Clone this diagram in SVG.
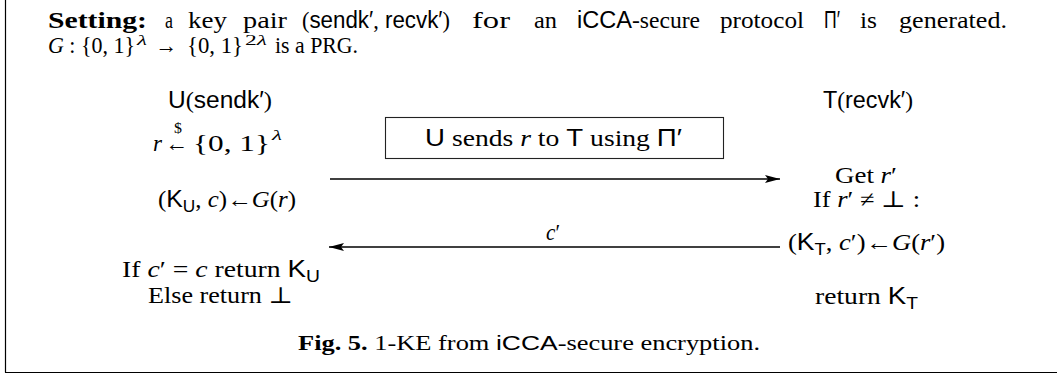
<svg xmlns="http://www.w3.org/2000/svg" width="1057" height="378" viewBox="0 0 1057 378">
<style>
text{font-family:"Liberation Serif","DejaVu Serif",serif;font-size:23px;fill:#000}
.sf{font-family:"Liberation Sans","DejaVu Sans",sans-serif}
.it{font-style:italic}
.bf{font-weight:bold}
.sub{font-size:16px}
.sup{font-size:15px}
.cap{font-size:21px}
.line{stroke:#000;stroke-width:1.4;fill:none}
.frame{stroke:#000;stroke-width:1.2;fill:none}
</style>
<defs>
<marker id="ah" markerUnits="userSpaceOnUse" markerWidth="16" markerHeight="8" refX="15" refY="4" orient="auto">
<path d="M0,0 L15,4 L0,8 L3,4 z" fill="#000"/>
</marker>
</defs>
<g id="frame">
<line class="frame" x1="5.5" y1="0" x2="5.5" y2="372.5"/>
<line class="frame" x1="5" y1="372.5" x2="1057" y2="372.5"/>
</g>
<g id="setting">
<text x="48" y="28" class="bf" textLength="99" lengthAdjust="spacingAndGlyphs">Setting:</text>
<text x="165" y="28" textLength="8" lengthAdjust="spacingAndGlyphs">a</text>
<text x="188" y="28" textLength="39" lengthAdjust="spacingAndGlyphs">key</text>
<text x="243" y="28" textLength="44" lengthAdjust="spacingAndGlyphs">pair</text>
<text x="302" y="28" textLength="148" lengthAdjust="spacingAndGlyphs">(<tspan class="sf">sendk′</tspan>,<tspan class="sf"> recvk′</tspan>)</text>
<text x="472" y="28" textLength="38" lengthAdjust="spacingAndGlyphs">for</text>
<text x="534" y="28" textLength="23" lengthAdjust="spacingAndGlyphs">an</text>
<text x="577" y="28" textLength="123" lengthAdjust="spacingAndGlyphs"><tspan class="sf">iCCA</tspan>-secure</text>
<text x="720" y="28" textLength="84" lengthAdjust="spacingAndGlyphs">protocol</text>
<text x="824" y="28" class="sf" textLength="16" lengthAdjust="spacingAndGlyphs">Π′</text>
<text x="860" y="28" textLength="17" lengthAdjust="spacingAndGlyphs">is</text>
<text x="899" y="28" textLength="108" lengthAdjust="spacingAndGlyphs">generated.</text>
<text x="48" y="53" textLength="87" lengthAdjust="spacingAndGlyphs"><tspan class="it">G</tspan> : {0, 1}</text>
<text x="137" y="45" class="it sup" textLength="10" lengthAdjust="spacingAndGlyphs">λ</text>
<text x="155" y="53" textLength="22" lengthAdjust="spacingAndGlyphs">→</text>
<text x="187" y="53" textLength="56" lengthAdjust="spacingAndGlyphs">{0, 1}</text>
<text x="245" y="45" class="sup" textLength="22" lengthAdjust="spacingAndGlyphs">2<tspan class="it">λ</tspan></text>
<text x="275" y="53" textLength="83" lengthAdjust="spacingAndGlyphs">is a PRG.</text>
</g>
<g id="user">
<text x="168" y="108" textLength="104" lengthAdjust="spacingAndGlyphs"><tspan class="sf">U</tspan>(<tspan class="sf">sendk′</tspan>)</text>
<text x="153" y="151" class="it" textLength="9" lengthAdjust="spacingAndGlyphs">r</text>
<text x="165" y="151" textLength="23" lengthAdjust="spacingAndGlyphs">←</text>
<text x="174" y="133" class="sup" textLength="8" lengthAdjust="spacingAndGlyphs">$</text>
<text x="193" y="151" textLength="77" lengthAdjust="spacingAndGlyphs">{0, 1}</text>
<text x="272" y="140" class="it sup" textLength="10" lengthAdjust="spacingAndGlyphs">λ</text>
<text x="158" y="207" textLength="138" lengthAdjust="spacingAndGlyphs">(<tspan class="sf">K</tspan><tspan class="sf sub" dy="5">U</tspan><tspan dy="-5">, </tspan><tspan class="it">c</tspan>)←<tspan class="it">G</tspan>(<tspan class="it">r</tspan>)</text>
<text x="122" y="277" textLength="198" lengthAdjust="spacingAndGlyphs">If <tspan class="it">c</tspan>′ = <tspan class="it">c</tspan> return <tspan class="sf">K</tspan><tspan class="sf sub" dy="5">U</tspan></text>
<text x="148" y="303" textLength="145" lengthAdjust="spacingAndGlyphs">Else return ⊥</text>
</g>
<g id="channel">
<rect x="385.5" y="117.5" width="338" height="41" fill="none" stroke="#222" stroke-width="1.1"/>
<text x="425" y="146" textLength="257" lengthAdjust="spacingAndGlyphs"><tspan class="sf">U</tspan> sends <tspan class="it">r</tspan> to <tspan class="sf">T</tspan> using <tspan class="sf">Π′</tspan></text>
</g>
<g id="target">
<text x="823" y="108" textLength="90" lengthAdjust="spacingAndGlyphs"><tspan class="sf">T</tspan>(<tspan class="sf">recvk′</tspan>)</text>
<text x="835" y="183" textLength="62" lengthAdjust="spacingAndGlyphs">Get <tspan class="it">r</tspan>′</text>
<text x="813" y="207" textLength="107" lengthAdjust="spacingAndGlyphs">If <tspan class="it">r</tspan>′ ≠ ⊥ :</text>
<text x="788" y="250" textLength="157" lengthAdjust="spacingAndGlyphs">(<tspan class="sf">K</tspan><tspan class="sf sub" dy="5">T</tspan><tspan dy="-5">, </tspan><tspan class="it">c</tspan>′)←<tspan class="it">G</tspan>(<tspan class="it">r</tspan>′)</text>
<text x="815" y="304" textLength="103" lengthAdjust="spacingAndGlyphs">return <tspan class="sf">K</tspan><tspan class="sf sub" dy="5">T</tspan></text>
</g>
<g id="connectors">
<line class="line" x1="330" y1="179" x2="780" y2="179" marker-end="url(#ah)"/>
<line class="line" x1="780" y1="247" x2="329" y2="247" marker-end="url(#ah)"/>
<text x="546" y="240" textLength="14" lengthAdjust="spacingAndGlyphs"><tspan class="it">c</tspan>′</text>
</g>
<g id="caption">
<text x="298" y="350" class="cap" textLength="462" lengthAdjust="spacingAndGlyphs"><tspan class="bf">Fig. 5.</tspan>   1-KE from <tspan class="sf">iCCA</tspan>-secure encryption.</text>
</g>
</svg>
